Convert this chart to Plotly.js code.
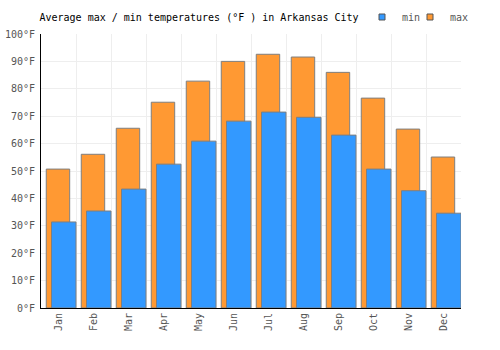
<!DOCTYPE html>
<html>
<head>
<meta charset="utf-8">
<script src="https://cdn.plot.ly/plotly-3.0.1.min.js"></script>
<style>html,body{margin:0;padding:0;background:#fff;}#chart{width:500px;height:350px;}</style>
</head>
<body>
<div id="chart"></div>
<script>
var months = ['Jan','Feb','Mar','Apr','May','Jun','Jul','Aug','Sep','Oct','Nov','Dec'];
var maxTemps = [50.7, 56.1, 65.6, 75.1, 82.8, 90.0, 92.6, 91.6, 86.0, 76.6, 65.3, 55.1];
var minTemps = [31.4, 35.4, 43.4, 52.5, 60.9, 68.2, 71.5, 69.6, 63.1, 50.7, 42.8, 34.6];
var yTicks = [0,10,20,30,40,50,60,70,80,90,100];
var yTickText = yTicks.map(function(v){return v + '°F';});

var FONT = 'DejaVu Sans Mono, monospace';
var ORANGE = '#ff9933';
var BLUE = '#3399ff';
var EDGE = '#7f7f7f';

var traces = [
  {type:'bar', name:'max', x:months, y:maxTemps, offset:-0.35, width:0.67,
   marker:{color:ORANGE, line:{color:EDGE, width:1}}, showlegend:false, hoverinfo:'y'},
  {type:'bar', name:'min', x:months, y:minTemps, offset:-0.2, width:0.7,
   marker:{color:BLUE, line:{color:EDGE, width:1}}, showlegend:false, hoverinfo:'y'},
  {type:'scatter', mode:'markers', name:'min', x:[null], y:[null], legend:'legend',
   marker:{symbol:'square', size:6, color:BLUE, line:{color:'#555', width:1}}},
  {type:'scatter', mode:'markers', name:'max', x:[null], y:[null], legend:'legend2',
   marker:{symbol:'square', size:6, color:ORANGE, line:{color:'#555', width:1}}}
];

var layout = {
  width:500, height:350,
  margin:{l:41, r:39, t:34, b:42, autoexpand:false},
  paper_bgcolor:'#fff', plot_bgcolor:'#fff',
  barmode:'overlay',
  font:{family:FONT, size:10, color:'#555'},
  title:{text:'Average max / min temperatures (°F ) in Arkansas City',
         font:{family:FONT, size:10, color:'#000'},
         x:0.079, xanchor:'left', y:0.951, yanchor:'middle'},
  xaxis:{type:'category', range:[-0.5, 11.5], tickson:'boundaries',
         showgrid:true, gridcolor:'#eeeeee', gridwidth:1,
         showline:true, linecolor:'#000', linewidth:1, ticks:'', tickangle:-90,
         tickfont:{family:FONT, size:10, color:'#555'}, zeroline:false},
  yaxis:{range:[0,100], tickvals:yTicks, ticktext:yTickText,
         showgrid:true, gridcolor:'#eeeeee', gridwidth:1, ticklabelstandoff:3,
         showline:true, linecolor:'#000', linewidth:1, ticks:'', zeroline:false,
         tickfont:{family:FONT, size:10, color:'#555'}},
  legend:{orientation:'h', x:(362-41)/420, xanchor:'left', y:(308-17)/274, yanchor:'middle',
          font:{family:FONT, size:10, color:'#555'}, bgcolor:'rgba(0,0,0,0)', itemwidth:30},
  legend2:{orientation:'h', x:(410-41)/420, xanchor:'left', y:(308-17)/274, yanchor:'middle',
          font:{family:FONT, size:10, color:'#555'}, bgcolor:'rgba(0,0,0,0)', itemwidth:30},
  showlegend:true
};

Plotly.newPlot('chart', traces, layout, {displayModeBar:false, staticPlot:true});
</script>
</body>
</html>
